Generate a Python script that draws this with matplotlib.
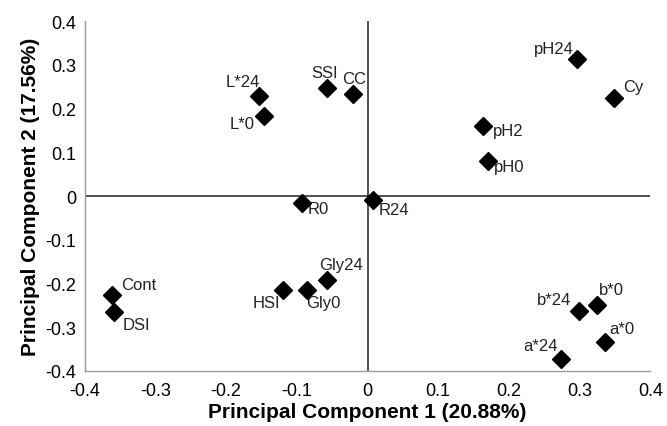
import matplotlib.pyplot as plt
from matplotlib.ticker import FuncFormatter

plt.rcParams['font.family'] = ['Liberation Sans', 'DejaVu Sans']

# PCA scores
labels = ["L*24", "L*0", "SSI", "CC", "pH24", "Cy", "pH2", "pH0", "R24", "R0",
          "Cont", "DSI", "HSI", "Gly0", "Gly24", "b*24", "b*0", "a*0", "a*24"]
pc1 = [-0.153, -0.146, -0.057, -0.021, 0.296, 0.348, 0.164, 0.171, 0.008, -0.092,
       -0.361, -0.358, -0.120, -0.086, -0.057, 0.299, 0.324, 0.336, 0.273]
pc2 = [0.229, 0.183, 0.247, 0.234, 0.314, 0.224, 0.160, 0.081, -0.009, -0.016,
       -0.227, -0.266, -0.215, -0.215, -0.192, -0.264, -0.250, -0.333, -0.372]
# label offsets (pixels) from each marker
label_dx = [-17, -22, -3, 1, -23, 20, 25, 21, 21, 16, 26, 22, -16, 17, 14, -25, 15, 17, -20]
label_dy = [14, -7, 16, 15, 10, 12, -4, -6, -10, -5, 11, -12, -12, -12, 15, 12, 16, 13, 13]

fig = plt.figure(figsize=(6.67, 4.27), dpi=100)
ax = fig.add_axes([0.127, 0.129, 0.848, 0.819])

ax.axhline(0, color="#222222", lw=1.1, zorder=1)
ax.axvline(0, color="#222222", lw=1.1, zorder=1)
ax.plot(pc1, pc2, "D", color="black", ms=9, ls="none", zorder=3)

for lab, x, y, dx, dy in zip(labels, pc1, pc2, label_dx, label_dy):
    ax.annotate(lab, (x, y), xytext=(dx, dy), textcoords="offset pixels",
                ha="center", va="center", fontsize=12, color="#222222")

ax.set_xlim(-0.4, 0.4)
ax.set_ylim(-0.4, 0.4)
ax.set_xticks([-0.4, -0.3, -0.2, -0.1, 0, 0.1, 0.2, 0.3, 0.4])
ax.set_yticks([-0.4, -0.3, -0.2, -0.1, 0, 0.1, 0.2, 0.3, 0.4])
fmt = FuncFormatter(lambda v, p: "0" if abs(v) < 1e-9 else "%.1f" % v)
ax.xaxis.set_major_formatter(fmt)
ax.yaxis.set_major_formatter(fmt)
ax.tick_params(axis="x", length=0, labelsize=13, pad=8)
ax.tick_params(axis="y", length=0, labelsize=13, pad=6)

for s in ["top", "right"]:
    ax.spines[s].set_visible(False)
for s in ["left", "bottom"]:
    ax.spines[s].set_color("#999999")
    ax.spines[s].set_linewidth(1)

ax.set_xlabel("Principal Component 1 (20.88%)", fontsize=15, fontweight="bold", labelpad=2)
ax.set_ylabel("Principal Component 2 (17.56%)", fontsize=15, fontweight="bold", labelpad=4)

fig.savefig("out.png", dpi=100)
